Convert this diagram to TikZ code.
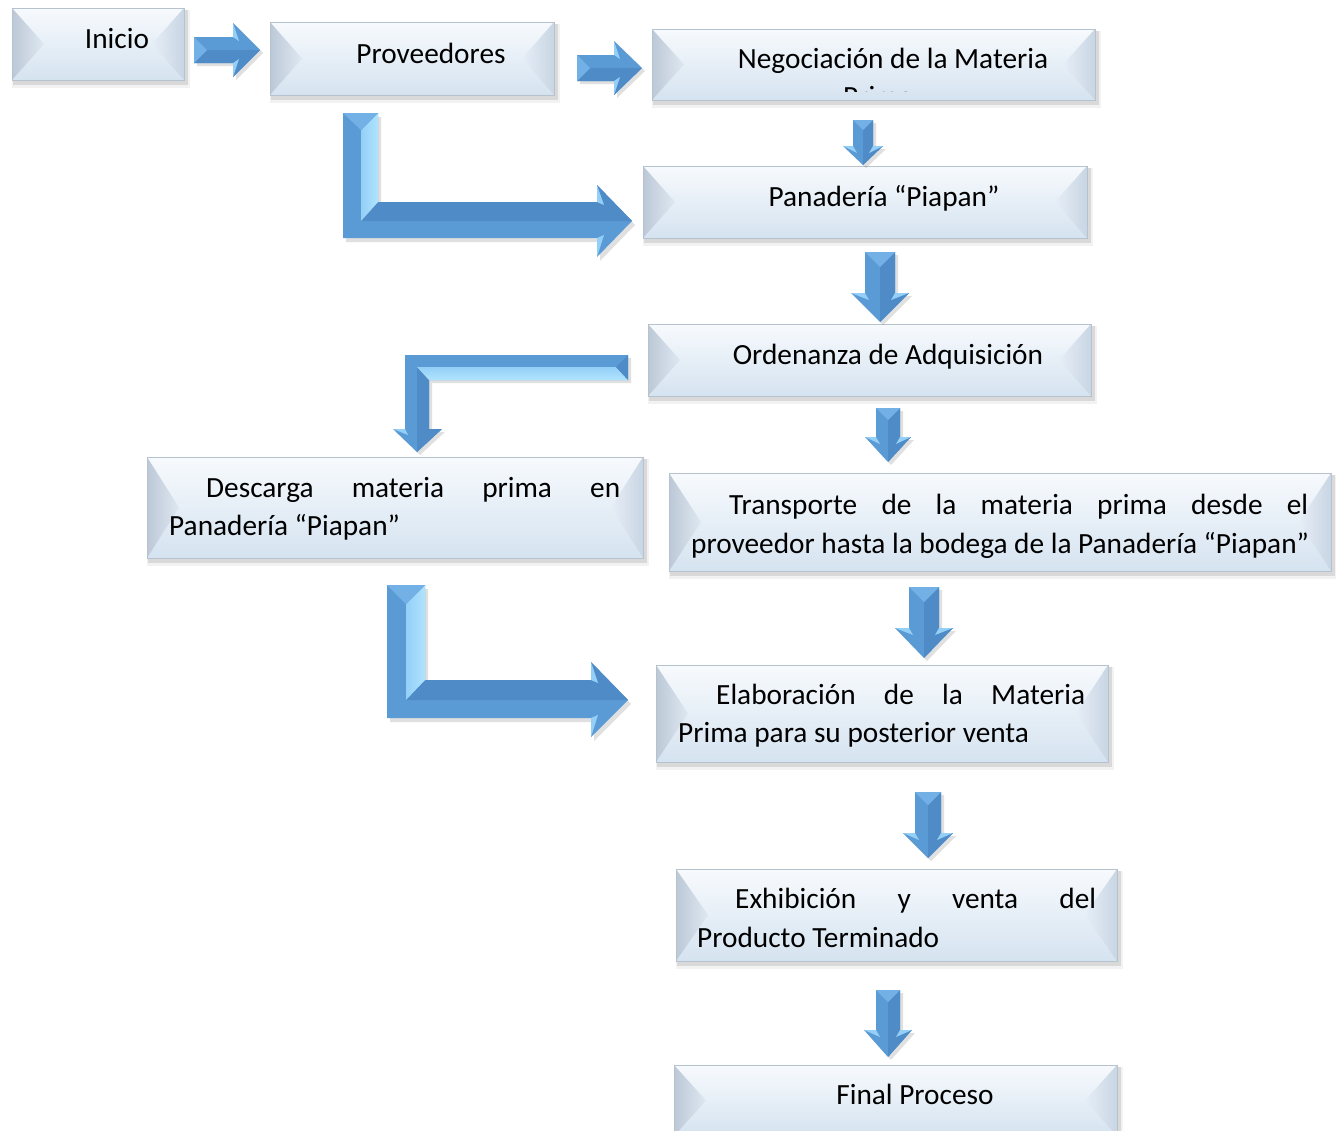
\documentclass[tikz,border=0pt]{standalone}
\usepackage{fontspec}
\setmainfont{Carlito}
\usetikzlibrary{fit}
\definecolor{bxtop}{HTML}{F7FAFD}
\definecolor{bxbot}{HTML}{D5E3F0}
\definecolor{bvLa}{HTML}{BCC8D6}
\definecolor{bvLb}{HTML}{DEE8F2}
\definecolor{bvRa}{HTML}{E6EEF7}
\definecolor{bvRb}{HTML}{C8D5E3}
\definecolor{bxedge}{HTML}{B7C2CF}
\definecolor{arM}{HTML}{5B9BD5}
\definecolor{arD}{HTML}{4F8BC6}
\definecolor{arCap}{HTML}{72B0E6}
\definecolor{arL}{HTML}{93CFF7}
\definecolor{arLL}{HTML}{B0E4FD}
\tikzset{
  txt/.style={font=\fontsize{29.3}{38.5}\selectfont, inner sep=0pt, text=black},
  boxedge/.style={draw=bxedge, line width=0.8pt, inner sep=0pt},
  shad/.style={black, opacity=.12},
}
% bevelled box: name, x1, y1, x2, y2
\newcommand{\bevbox}[5]{%
  \fill[black,opacity=.05] (#2,#3+2) rectangle (#4+6,#5+8);
  \fill[black,opacity=.10] (#2+1,#3+2) rectangle (#4+4,#5+5);
  \shade[top color=bxtop,bottom color=bxbot] (#2,#3) rectangle (#4,#5);
  \shade[left color=bvLa,right color=bvLb] (#2,#3) -- (#2+32,{(#3+#5)/2}) -- (#2,#5) -- cycle;
  \shade[left color=bvRa,right color=bvRb] (#4,#3) -- (#4-32,{(#3+#5)/2}) -- (#4,#5) -- cycle;
  \path (#2,#3) coordinate (#1-nw) (#4,#5) coordinate (#1-se);
  \node[boxedge, fit=(#1-nw)(#1-se)] (#1) {};
}
% down block arrow: name, cx, y0, y1, y2, sw, hw
\newcommand{\downarr}[7]{%
  \fill[shad] (#2-#6+3,#3+3) -- (#2+#6+3,#3+3) -- (#2+#6+3,#4+3) -- (#2+#7+3,#4+3) -- (#2+3,#5+3) -- (#2-#7+3,#4+3) -- (#2-#6+3,#4+3) -- cycle;
  \fill[arM] (#2-#6,#3) -- (#2+#6,#3) -- (#2+#6,#4) -- (#2+#7,#4) -- (#2,#5) -- (#2-#7,#4) -- (#2-#6,#4) -- cycle;
  \fill[arD] (#2,#3+#6) -- (#2+#6,#3) -- (#2+#6,#4) -- (#2+#7,#4) -- (#2,#5) -- cycle;
  \fill[arCap] (#2-#6,#3) -- (#2+#6,#3) -- (#2,#3+#6) -- cycle;
  \fill[arL] (#2-#7,#4) -- (#2-#6,#4) -- (#2-#6+4,#4+7) -- cycle;
  \fill[arL] (#2+#7,#4) -- (#2+#6,#4) -- (#2+#6-4,#4+7) -- cycle;
  \coordinate (#1) at (#2,#5);
}
% right block arrow: name, x0, x1, x2, cy, sh, hh
\newcommand{\rightarr}[7]{%
  \fill[shad] (#2+3,#5-#6+3) -- (#3+3,#5-#6+3) -- (#3+3,#5-#7+3) -- (#4+3,#5+3) -- (#3+3,#5+#7+3) -- (#3+3,#5+#6+3) -- (#2+3,#5+#6+3) -- cycle;
  \fill[arM] (#2,#5-#6) -- (#3,#5-#6) -- (#3,#5-#7) -- (#4,#5) -- (#3,#5+#7) -- (#3,#5+#6) -- (#2,#5+#6) -- cycle;
  \fill[arD] (#2+#6,#5) -- (#4,#5) -- (#3,#5+#7) -- (#3,#5+#6) -- (#2,#5+#6) -- cycle;
  \fill[arCap] (#2,#5-#6) -- (#2+#6,#5) -- (#2,#5+#6) -- cycle;
  \fill[arL] (#3,#5-#7) -- (#3,#5-#6) -- (#3+6,#5-#6+4) -- cycle;
  \fill[arL] (#3,#5+#7) -- (#3,#5+#6) -- (#3+6,#5+#6-4) -- cycle;
  \coordinate (#1) at (#4,#5);
}
\begin{document}
\begin{tikzpicture}[x=1pt,y=-1pt]
\useasboundingbox[fill=white] (0,0) rectangle (1336,1130);

% ---------- boxes ----------
\bevbox{inicio}{12}{8}{184}{80}
\bevbox{prov}{270}{22}{554}{95}
\bevbox{nego}{652}{29}{1095}{100}
\bevbox{pana}{643}{166}{1087}{238}
\bevbox{orde}{648}{324}{1091}{396}
\bevbox{desc}{147}{457}{643}{558}
\bevbox{trans}{669}{473}{1331}{571}
\bevbox{elab}{656}{665}{1108}{762}
\bevbox{exhi}{676}{869}{1117}{961}
\bevbox{fin}{674}{1065}{1117}{1136}

% ---------- texts ----------
\node[txt, anchor=base] (tinicio) at (117,48) {Inicio};
\node[txt, anchor=base] (tprov) at (431,63) {Proveedores};
\node[txt, anchor=base] (tnego) at (893,68) {Negociación de la Materia};
\begin{scope}
  \clip (652,29) rectangle (1095,91);
  \node[txt, anchor=base west] (tprima) at (843,106.5) {Prima};
\end{scope}
\node[txt, anchor=base] (tpana) at (884,206) {Panadería “Piapan”};
\node[txt, anchor=base] (torde) at (888,364) {Ordenanza de Adquisición};
\node[txt, anchor=base west] (tdesc1) at (206,497) {\makebox[414pt][s]{Descarga\hfill materia\hfill prima\hfill en}};
\node[txt, anchor=base west] (tdesc2) at (169,535) {Panadería “Piapan”};
\node[txt, anchor=base west] (ttrans1) at (729,514) {\makebox[579pt][s]{Transporte\hfill de\hfill la\hfill materia\hfill prima\hfill desde\hfill el}};
\node[txt, anchor=base west] (ttrans2) at (691,553) {proveedor hasta la bodega de la Panadería “Piapan”};
\node[txt, anchor=base west] (telab1) at (716,704) {\makebox[369pt][s]{Elaboración\hfill de\hfill la\hfill Materia}};
\node[txt, anchor=base west] (telab2) at (678,742) {Prima para su posterior venta};
\node[txt, anchor=base west] (texhi1) at (735,908) {\makebox[361pt][s]{Exhibición\hfill y\hfill venta\hfill del}};
\node[txt, anchor=base west] (texhi2) at (697,947) {Producto Terminado};
\node[txt, anchor=base] (tfin) at (915,1104) {Final Proceso};

% ---------- straight block arrows ----------
\rightarr{a1}{194}{233}{260}{50}{13}{27}
\rightarr{a2}{577}{614}{642}{68}{13}{27}
\downarr{a3}{863}{120}{146}{165}{10}{20}
\downarr{a4}{880}{252}{293}{322}{15}{29}
\downarr{a5}{888}{408}{437}{462}{12}{23}
\downarr{a6}{924}{587}{628}{658}{15}{29}
\downarr{a7}{928}{792}{833}{858}{13}{25}
\downarr{a8}{888}{990}{1030}{1057}{12}{24}

% ---------- L arrow: Proveedores -> Panaderia ----------
\fill[shad] (346,117) -- (381,117) -- (381,206) -- (600,206) -- (600,189) -- (635,225) -- (600,261) -- (600,242) -- (346,242) -- cycle;
\fill[arM] (343,113) -- (378,113) -- (378,202) -- (597,202) -- (597,185) -- (632,221) -- (597,257) -- (597,238) -- (343,238) -- cycle;
\fill[arD] (378,202) -- (597,202) -- (597,185) -- (632,221) -- (361,221) -- cycle;
\shade[left color=arL, right color=arLL] (361,130) -- (378,113) -- (378,202) -- (361,221) -- cycle;
\fill[arCap] (343,113) -- (378,113) -- (361,130) -- cycle;
\fill[arL] (597,185) -- (597,202) -- (604,205) -- cycle;
\fill[arL] (597,257) -- (597,238) -- (604,235) -- cycle;

% ---------- L arrow: Ordenanza -> Descarga ----------
\fill[shad] (631,358) -- (631,383) -- (432,383) -- (432,432) -- (445,432) -- (420,455) -- (396,432) -- (408,432) -- (408,358) -- cycle;
\fill[arM] (628,355) -- (628,380) -- (429,380) -- (429,429) -- (442,429) -- (417,452) -- (393,429) -- (405,429) -- (405,355) -- cycle;
\fill[arD] (417,367) -- (429,380) -- (429,429) -- (442,429) -- (417,452) -- cycle;
\shade[top color=arL, bottom color=arLL] (417,367) -- (616,367) -- (628,380) -- (429,380) -- cycle;
\fill[arD] (628,355) -- (628,380) -- (616,367) -- cycle;
\fill[arL] (393,429) -- (405,429) -- (408,435) -- cycle;

% ---------- L arrow: Descarga -> Elaboracion ----------
\fill[shad] (390,589) -- (428,589) -- (428,684) -- (594,684) -- (594,666) -- (631,704) -- (594,741) -- (594,722) -- (390,722) -- cycle;
\fill[arM] (387,585) -- (425,585) -- (425,680) -- (591,680) -- (591,662) -- (628,700) -- (591,737) -- (591,718) -- (387,718) -- cycle;
\fill[arD] (425,680) -- (591,680) -- (591,662) -- (628,700) -- (406,700) -- cycle;
\shade[left color=arL, right color=arLL] (406,604) -- (425,585) -- (425,680) -- (406,700) -- cycle;
\fill[arCap] (387,585) -- (425,585) -- (406,604) -- cycle;
\fill[arL] (591,662) -- (591,680) -- (598,683) -- cycle;
\fill[arL] (591,737) -- (591,718) -- (598,715) -- cycle;
\end{tikzpicture}
\end{document}
